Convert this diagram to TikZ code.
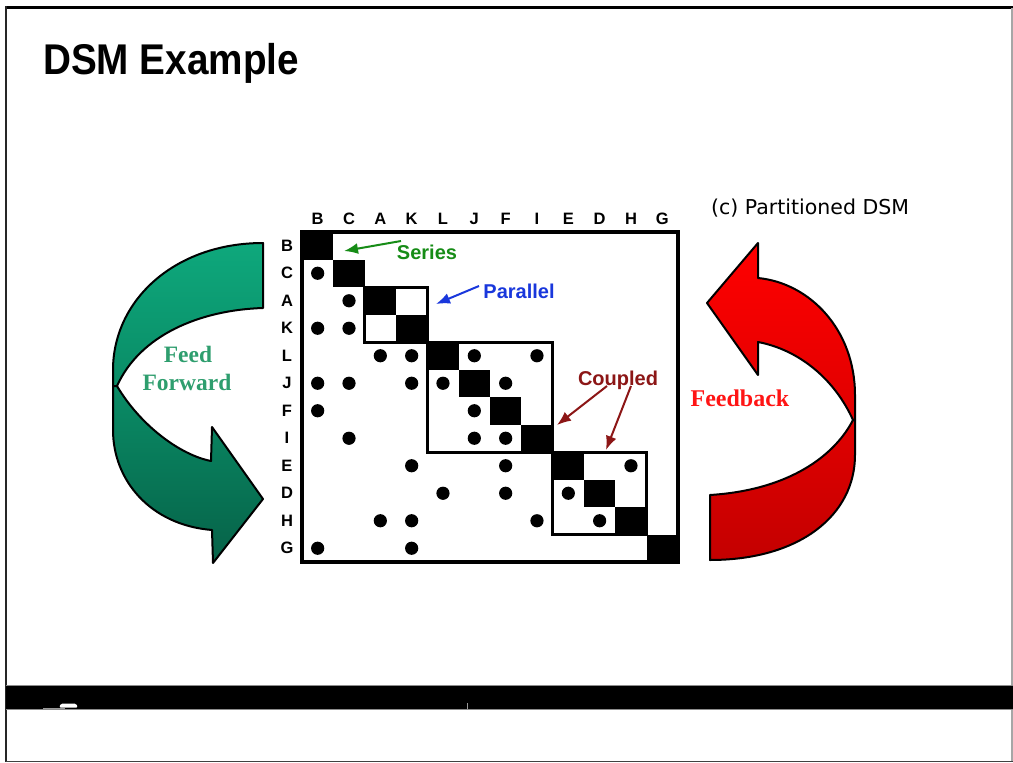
\documentclass[tikz,border=0pt]{standalone}
\usepackage{fontspec}
\setmainfont{Liberation Sans}
\newfontfamily\serifbold{Liberation Serif}
\newfontfamily\handfont{DejaVu Sans}
\usetikzlibrary{arrows.meta}
\definecolor{ffgreen}{RGB}{46,158,110}
\definecolor{fbred}{RGB}{255,20,20}
\definecolor{sergreen}{RGB}{22,140,22}
\definecolor{parblue}{RGB}{25,55,220}
\definecolor{coupred}{RGB}{140,22,22}
\definecolor{gtop}{RGB}{14,168,124}
\definecolor{gmid}{RGB}{10,140,102}
\definecolor{gbot}{RGB}{6,98,72}
\definecolor{rtop}{RGB}{255,0,0}
\definecolor{rmid}{RGB}{224,0,0}
\definecolor{rbot}{RGB}{196,0,0}
\tikzset{
  lbl/.style={font=\fontsize{16.5}{16.5}\selectfont\bfseries, inner sep=0pt},
  callout/.style={font=\fontsize{20}{20}\selectfont\bfseries, inner sep=0pt},
  pointer/.style={line width=2pt, -{Latex[length=14pt,width=11pt]}},
  band/.style={draw=black, line width=2pt, line join=round},
  blockbox/.style={draw=black, line width=3pt},
  cellfill/.style={fill=black},
}
\begin{document}
\begin{tikzpicture}[x=1pt,y=-1pt]
\useasboundingbox (0,0) rectangle (1013,763);
\fill[white] (0,0) rectangle (1013,763);

% slide frame
\draw[line width=3pt] (5,7) -- (1013,7);
\draw[line width=2.4pt, black!85] (6,6) -- (6,762);
\draw[line width=1.2pt, black!35] (1012,8) -- (1012,762);
\draw[line width=1.6pt, black!75] (6,761.5) -- (1013,761.5);
\fill[black] (6,685) rectangle (1013,709);
\draw[line width=0.8pt, black!45] (6,685) -- (1013,685);
\draw[line width=0.8pt, black!45] (6,709) -- (1013,709);
\fill[white, rounded corners=1.5pt] (59,707.5) -- (61,703.5) -- (76,703.5) -- (78,707.5) -- cycle;
\draw[line width=0.8pt, black!40] (43,708.3) -- (65,708.3);
\draw[line width=0.5pt, black!40] (467,703) -- (467,709);

% title
\node[anchor=base west, inner sep=0pt, font=\fontsize{43}{43}\selectfont\bfseries] (title) at (43,74.5) {\scalebox{0.9}[1]{DSM Example}};
\node[anchor=base west, inner sep=0pt, font=\handfont\fontsize{20.5}{20.5}\selectfont] (part) at (711,214) {(c) Partitioned DSM};

% matrix: labels and diagonal
\foreach \n [count=\i from 0] in {B,C,A,K,L,J,F,I,E,D,H,G} {
  \node[lbl] (col\n) at ({317.67+31.33*\i},219) {\n};
  \node[lbl] (row\n) at (287,{245.75+27.5*\i}) {\n};
  \fill[cellfill] ({302+31.33*\i},{232+27.5*\i}) rectangle ++(31.33,27.5);
}
% marks
\foreach \r/\c in {1/0, 2/1, 3/0, 3/1,
  4/2, 4/3, 4/5, 4/7,
  5/0, 5/1, 5/3, 5/4, 5/6,
  6/0, 6/5,
  7/1, 7/5, 7/6,
  8/3, 8/6, 8/10,
  9/4, 9/6, 9/8,
  10/2, 10/3, 10/7, 10/9,
  11/0, 11/3} {
  \fill ({317.67+31.33*\c},{245.75+27.5*\r}) circle (6.6pt);
}
% partition blocks
\draw[blockbox] (364.7,287) rectangle (427.3,342);
\draw[blockbox] (427.3,342) rectangle (552.7,452);
\draw[blockbox] (552.7,452) rectangle (646.7,534.5);
\draw[line width=3.6pt] (302,232) rectangle (678,562);

% callouts
\node[callout, text=sergreen] (series) at (427,252) {Series};
\coordinate (seriesTail) at (401,241);
\coordinate (seriesTip) at (344,251);
\draw[pointer, sergreen] (seriesTail) -- (seriesTip);

\node[callout, text=parblue] (parallel) at (519,291) {Parallel};
\coordinate (parTail) at (479,286);
\coordinate (parTip) at (436,304);
\draw[pointer, parblue] (parTail) -- (parTip);

\node[callout, text=coupred] (coupled) at (618,380) {Coupled};
\coordinate (coupTailA) at (607,386);
\coordinate (coupTipA) at (557,425);
\coordinate (coupTailB) at (631,386);
\coordinate (coupTipB) at (606,450);
\draw[pointer, coupred] (coupTailA) -- (coupTipA);
\draw[pointer, coupred] (coupTailB) -- (coupTipB);

% feed-forward ribbon (green)
\draw[band, top color=gtop, bottom color=gmid]
  (263,243) -- (263,308)
  .. controls (200,310) and (140,335) .. (117,386)
  -- (113,386) -- (113,370)
  .. controls (113,300) and (175,243) .. (263,243) -- cycle;
\draw[band, top color=gmid, bottom color=gbot]
  (117,386) .. controls (140,425) and (180,455) .. (211,461)
  -- (212,427) -- (263,499) -- (213,563) -- (212,530)
  .. controls (150,525) and (113,480) .. (113,430)
  -- (113,386) -- cycle;
\node[font=\serifbold\bfseries\fontsize{23.5}{23.5}\selectfont, text=ffgreen, inner sep=0pt] (feed) at (188,354) {Feed};
\node[font=\serifbold\bfseries\fontsize{23.5}{23.5}\selectfont, text=ffgreen, inner sep=0pt] (forward) at (187,382) {Forward};

% feedback ribbon (red)
\draw[band, top color=rmid, bottom color=rbot]
  (853,420) .. controls (835,455) and (790,490) .. (710,495)
  -- (710,560) .. controls (800,560) and (855,515) .. (855,455)
  -- (855,420) -- cycle;
\draw[band, top color=rtop, bottom color=rmid]
  (758,278) -- (758,243) -- (707,303) -- (758,375) -- (758,342)
  .. controls (800,350) and (835,380) .. (853,420)
  -- (855,420) -- (855,395)
  .. controls (855,330) and (810,283) .. (758,278) -- cycle;
\node[font=\serifbold\bfseries\fontsize{24}{24}\selectfont, text=fbred, inner sep=0pt] (feedback) at (740,398) {Feedback};
\end{tikzpicture}
\end{document}
